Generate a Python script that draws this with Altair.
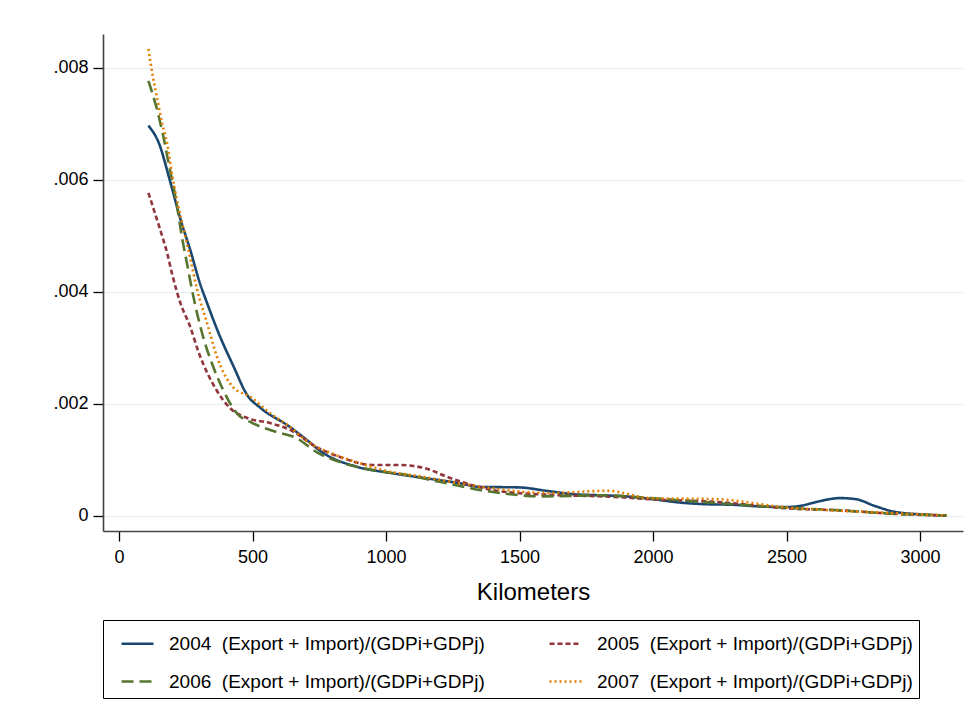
import altair as alt
import pandas as pd

# Series labels, colours and dash patterns
labels = [
    "2004\u00a0 (Export + Import)/(GDPi+GDPj)",
    "2005\u00a0 (Export + Import)/(GDPi+GDPj)",
    "2006\u00a0 (Export + Import)/(GDPi+GDPj)",
    "2007\u00a0 (Export + Import)/(GDPi+GDPj)",
]
colors = ["#1a476f", "#90353b", "#55752f", "#e37e00"]
dashes = [[1, 0], [5, 3], [12, 6], [2, 3]]

# Share of bilateral trade in combined GDP by distance (km)
km_2004 = [110, 150, 190, 230, 270, 300, 330, 370, 430, 480, 530, 640, 700, 760, 890, 1015,
           1140, 1270, 1350, 1500, 1600, 1700, 1800, 1900, 2000, 2100, 2200, 2300, 2400,
           2500, 2550, 2620, 2700, 2760, 2830, 2900, 3000, 3100]
val_2004 = [0.00697, 0.00665, 0.0060, 0.0053, 0.0047, 0.0042, 0.0038, 0.0033, 0.00266, 0.00216,
            0.00193, 0.00159, 0.00137, 0.00114, 0.00088, 0.00077, 0.00068, 0.00059, 0.00052,
            0.00051, 0.00045, 0.00039, 0.00037, 0.00035, 0.0003, 0.00024, 0.00021, 0.0002,
            0.00017, 0.00016, 0.00018, 0.00026, 0.00032, 0.0003, 0.00018, 0.00008, 0.00003,
            0.00001]

km_2005 = [110, 135, 155, 180, 200, 230, 265, 300, 365, 415, 480, 565, 640, 740, 830, 950,
           1050, 1140, 1240, 1330, 1430, 1610, 1860, 1990, 2240, 2490, 2740, 2860, 3000, 3100]
val_2005 = [0.00577, 0.0054, 0.0051, 0.0047, 0.0043, 0.0038, 0.0034, 0.0029, 0.00225, 0.00193,
            0.00175, 0.00166, 0.00154, 0.00123, 0.00105, 0.00091, 0.00091, 0.00086, 0.00068,
            0.00054, 0.00044, 0.00038, 0.00034, 0.0003, 0.00025, 0.00014, 0.00009, 0.00005,
            0.00002, 0.00001]

km_2006 = [110, 140, 165, 190, 215, 235, 255, 275, 315, 350, 390, 440, 500, 590, 665, 740,
           830, 950, 1080, 1200, 1370, 1590, 1800, 1990, 2240, 2490, 2740, 2900, 3100]
val_2006 = [0.00777, 0.0073, 0.0068, 0.0062, 0.0056, 0.0050, 0.0045, 0.0040, 0.0032, 0.0027,
            0.00225, 0.00184, 0.00166, 0.0015, 0.00139, 0.00114, 0.00096, 0.00082, 0.00073,
            0.00061, 0.00045, 0.00035, 0.00037, 0.00032, 0.00023, 0.00015, 0.00009, 0.00004,
            0.00001]

km_2007 = [110, 127, 142, 161, 180, 198, 217, 240, 266, 292, 330, 367, 427, 491, 565, 640,
           715, 790, 891, 1015, 1139, 1266, 1390, 1614, 1828, 1989, 2239, 2487, 2674, 2861, 3100]
val_2007 = [0.00834, 0.00784, 0.00748, 0.00702, 0.00666, 0.00612, 0.00564, 0.00516, 0.00462,
            0.00405, 0.00344, 0.00284, 0.0023, 0.00213, 0.00184, 0.00159, 0.0013, 0.00113,
            0.00096, 0.00079, 0.0007, 0.00059, 0.0005, 0.00041, 0.00045, 0.00032, 0.0003,
            0.00016, 0.0001, 0.00006, 0.00001]

x_ticks = [0, 500, 1000, 1500, 2000, 2500, 3000]
y_ticks = [0, 0.002, 0.004, 0.006, 0.008]

frames = []
for lab, ks, vs in zip(labels,
                       [km_2004, km_2005, km_2006, km_2007],
                       [val_2004, val_2005, val_2006, val_2007]):
    frames.append(pd.DataFrame({"km": ks, "share": vs, "series": lab}))
df = pd.concat(frames, ignore_index=True)

# The legend grid fills column by column, so list the series in the order
# that puts 2004/2005 on the first row and 2006/2007 on the second.
legend_order = [0, 2, 1, 3]
dom = [labels[i] for i in legend_order]
col_range = [colors[i] for i in legend_order]
dash_range = [dashes[i] for i in legend_order]

FONT = "Liberation Sans"

legend = alt.Legend(
    title=None,
    orient="none",
    legendX=0,
    legendY=586,
    columns=2,
    symbolType="stroke",
    symbolSize=1024,
    symbolStrokeWidth=2.5,
    symbolOffset=11,
    labelFont=FONT,
    labelFontSize=19,
    labelColor="black",
    labelLimit=0,
    labelOffset=14,
    padding=6,
    rowPadding=10,
    columnPadding=52,
    strokeColor="black",
    fillColor="white",
)

chart = (
    alt.Chart(df)
    .mark_line(strokeWidth=2.6, interpolate="monotone")
    .encode(
        x=alt.X(
            "km:Q",
            scale=alt.Scale(domain=[-60, 3161], nice=False, zero=False),
            axis=alt.Axis(values=x_ticks, title="Kilometers", grid=False,
                          format="d", labelPadding=7, titlePadding=14),
        ),
        y=alt.Y(
            "share:Q",
            scale=alt.Scale(domain=[-0.000268, 0.008607], nice=False, zero=False),
            axis=alt.Axis(
                values=y_ticks,
                title=None,
                grid=True,
                labelExpr="datum.value == 0 ? '0' : slice(format(datum.value, '.3f'), 1)",
                labelPadding=5,
            ),
        ),
        color=alt.Color("series:N", scale=alt.Scale(domain=dom, range=col_range), legend=legend),
        strokeDash=alt.StrokeDash("series:N", scale=alt.Scale(domain=dom, range=dash_range),
                                  legend=legend),
        order=alt.Order("series:N"),
    )
    .properties(
        width=860,
        height=497,
        autosize=alt.AutoSizeParams(type="none"),
        padding={"left": 103, "top": 34, "right": 10, "bottom": 184},
        background="white",
    )
    .configure_view(stroke=None)
    .configure_axis(
        labelFont=FONT,
        titleFont=FONT,
        labelFontSize=18,
        titleFontSize=24,
        titleFontWeight="normal",
        labelColor="black",
        titleColor="black",
        domainColor="#444444",
        domainWidth=1.6,
        tickColor="black",
        tickSize=10,
        tickWidth=1.3,
        gridColor="#e6eff1",
        gridWidth=1.6,
    )
)

chart.save("out.html", embed_options={"renderer": "svg", "actions": False})
